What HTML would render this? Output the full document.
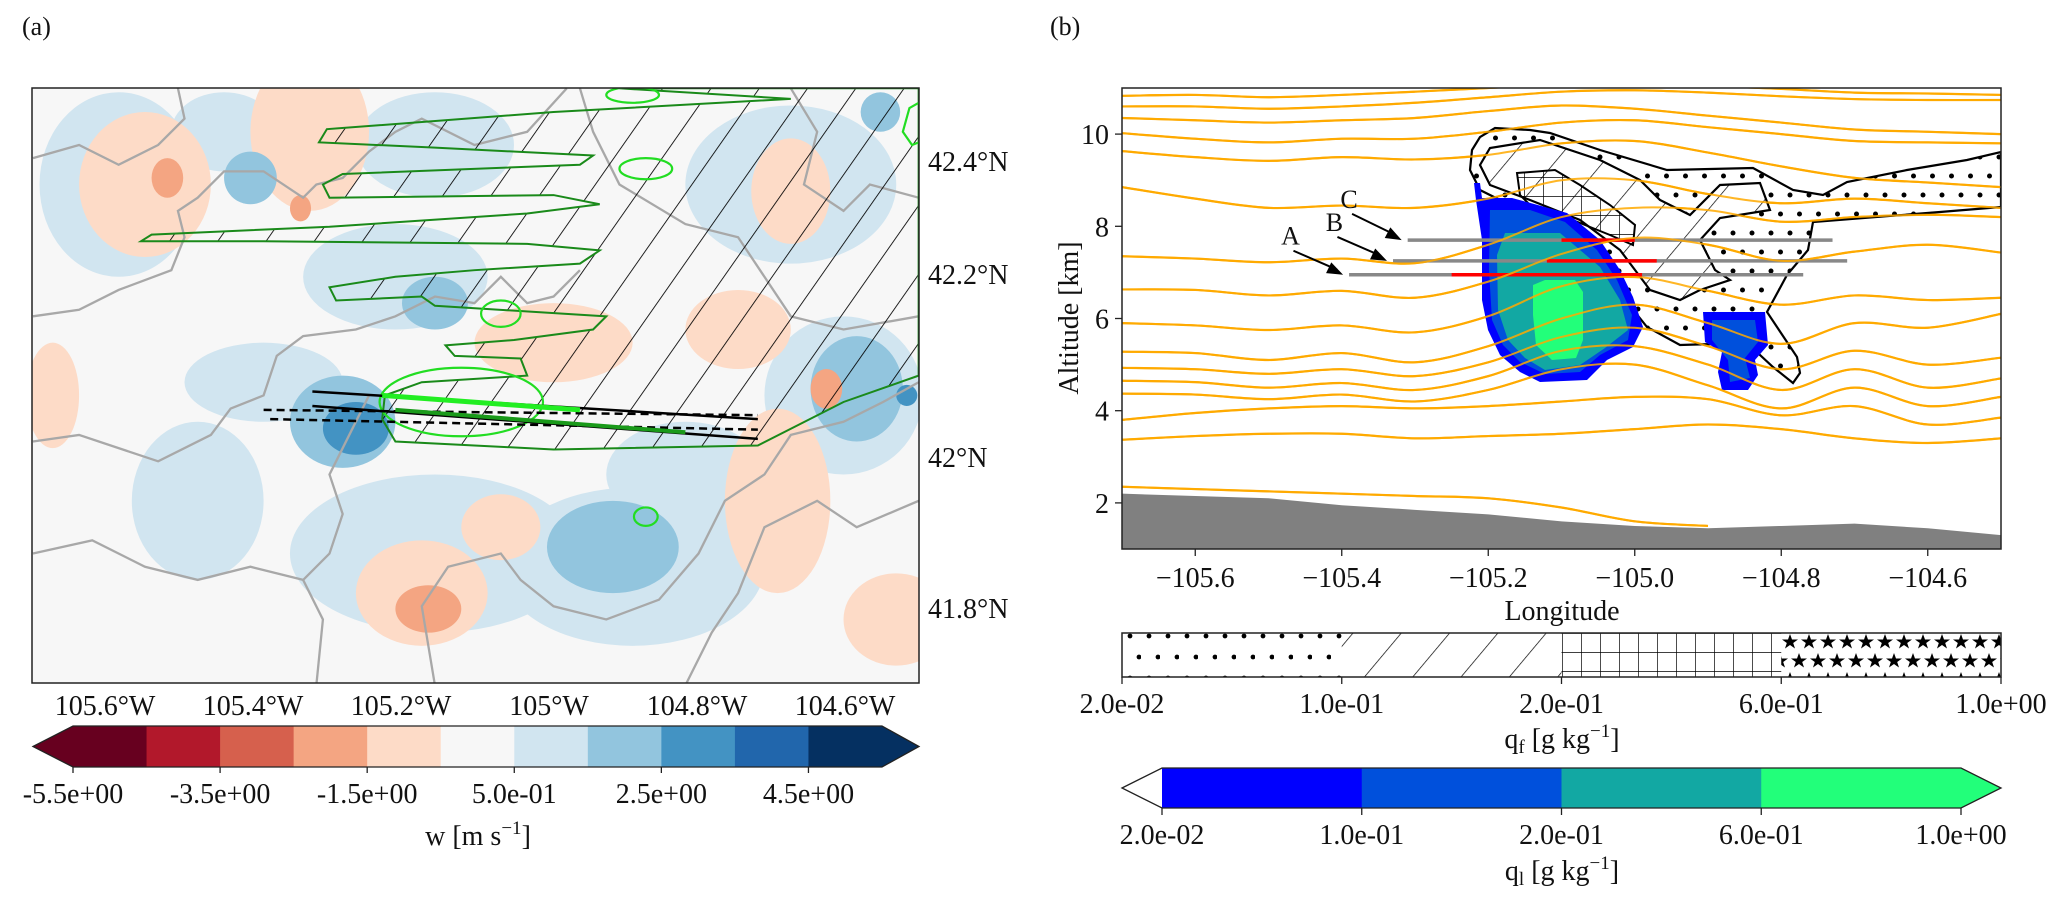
<!DOCTYPE html>
<html><head><meta charset="utf-8"><style>
html,body{margin:0;padding:0;background:#fff;}
svg text{font-family:"Liberation Serif",serif;fill:#111;}
</style></head><body>
<svg id="fig" width="2067" height="905" viewBox="0 0 2067 905" xmlns="http://www.w3.org/2000/svg">
<defs>
<pattern id="slashA" patternUnits="userSpaceOnUse" width="30" height="30" patternTransform="rotate(35)"><line x1="0" y1="0" x2="0" y2="30" stroke="#000" stroke-width="1.3"/></pattern>
<pattern id="dots" patternUnits="userSpaceOnUse" width="19" height="38"><circle cx="4" cy="5" r="2.5" fill="#000"/><circle cx="13.5" cy="24" r="2.5" fill="#000"/></pattern>
<pattern id="dotsBar" patternUnits="userSpaceOnUse" x="1122" y="633" width="19" height="42"><circle cx="8" cy="3" r="2.4" fill="#000"/><circle cx="17" cy="24" r="2.4" fill="#000"/></pattern>
<pattern id="slash" patternUnits="userSpaceOnUse" width="37" height="37" patternTransform="rotate(40)"><line x1="0" y1="0" x2="0" y2="37" stroke="#000" stroke-width="1.4"/></pattern>
<pattern id="cross" patternUnits="userSpaceOnUse" x="1562" y="633" width="19" height="19"><path d="M0 0V19M0 0H19" stroke="#000" stroke-width="1.4" fill="none"/></pattern>
<pattern id="stars" patternUnits="userSpaceOnUse" x="1781" y="633" width="19" height="38">
<polygon points="9,1 11,6.5 17,6.5 12.2,10 14,15.5 9,12 4,15.5 5.8,10 1,6.5 7,6.5" fill="#000"/>
<polygon points="18,20 20,25.5 26,25.5 21.2,29 23,34.5 18,31 13,34.5 14.8,29 10,25.5 16,25.5" fill="#000"/>
<polygon points="-1,20 1,25.5 7,25.5 2.2,29 4,34.5 -1,31 -6,34.5 -4.2,29 -9,25.5 -3,25.5" fill="#000"/>
</pattern>
<clipPath id="clipA"><rect x="32" y="88" width="887" height="595"/></clipPath>
<clipPath id="clipB"><rect x="1122" y="88" width="879" height="461"/></clipPath>
</defs>

<text x="22" y="35" font-size="26">(a)</text>
<text x="1050" y="35" font-size="26">(b)</text>

<!-- PANEL A -->
<g id="mapA" clip-path="url(#clipA)">
<rect x="32" y="88" width="887" height="595" fill="#f7f7f7"/>
<g id="blobs" transform="scale(1.318)"></g>
<g id="terrainC" transform="scale(1.318)" fill="none" stroke="#a8a8a8" stroke-width="2.3" vector-effect="non-scaling-stroke"></g>
<g transform="scale(1.318)">
<path d="M470,67 L697,67 L697,285 L640,305 L575,338 L420,341 L300,335 L290,318 L292,300 L320,290 L400,285 L395,272 L345,270 L338,262 L390,258 L450,250 L460,240 L330,232 L320,225 L255,228 L250,218 L300,210 L360,205 L440,200 L455,190 L400,185 L200,183 L107,183 L115,178 L250,172 L400,162 L455,155 L420,148 L250,150 L245,140 L260,132 L440,125 L450,118 L330,112 L242,108 L248,98 L420,85 L600,75 L470,67 Z" fill="url(#slashA)" stroke="#1a8a1a" stroke-width="2" vector-effect="non-scaling-stroke"/>
<g fill="none" stroke="#22dd22" stroke-width="2.2">
<ellipse cx="350" cy="305" rx="62" ry="26" vector-effect="non-scaling-stroke"/>
<ellipse cx="490" cy="392" rx="9" ry="7" vector-effect="non-scaling-stroke"/>
<ellipse cx="490" cy="128" rx="20" ry="8" vector-effect="non-scaling-stroke"/>
<ellipse cx="380" cy="238" rx="15" ry="10" vector-effect="non-scaling-stroke"/>
<ellipse cx="480" cy="72" rx="20" ry="6" vector-effect="non-scaling-stroke"/>
<path d="M697,78 L690,82 L685,100 L692,110 L697,108" vector-effect="non-scaling-stroke"/>
</g>
<g stroke="#000" fill="none">
<line x1="237" y1="297" x2="575" y2="318" stroke-width="2.5" vector-effect="non-scaling-stroke"/>
<line x1="237" y1="308" x2="575" y2="333" stroke-width="2.5" vector-effect="non-scaling-stroke"/>
<line x1="200" y1="311" x2="575" y2="315" stroke-width="2.5" stroke-dasharray="8,5" vector-effect="non-scaling-stroke"/>
<line x1="205" y1="318" x2="575" y2="326" stroke-width="2.5" stroke-dasharray="8,5" vector-effect="non-scaling-stroke"/>
<line x1="290" y1="300" x2="440" y2="311" stroke="#22ee22" stroke-width="5" vector-effect="non-scaling-stroke"/>
<line x1="300" y1="311" x2="520" y2="328" stroke="#1a9a1a" stroke-width="4" vector-effect="non-scaling-stroke"/>
</g>
</g>
</g>
<rect x="32" y="88" width="887" height="595" fill="none" stroke="#222" stroke-width="1.5"/>
<g id="latLabels" font-size="28"></g>
<g id="lonLabels" font-size="28"></g>
<g id="cbarA"></g>

<!-- PANEL B -->
<g clip-path="url(#clipB)">
<g id="orange" fill="none" stroke="#ffaa00" stroke-width="2.2"></g>
<path id="terrain" fill="#808080"/>
<path d="M1470,170 L1472,150 L1480,137 L1495,128 L1530,130 L1550,133 L1600,150 L1667,170 L1753,168 L1793,190 L1823,195 L1847,182 L1907,170 L1967,160 L2001,152 L2001,207 L1940,212 L1813,222 L1808,250 L1787,275 L1767,312 L1797,357 L1800,373 L1793,383 L1773,367 L1747,343 L1680,345 L1647,327 L1623,297 L1590,255 L1557,225 L1510,205 L1480,190 Z" fill="url(#dots)" stroke="#000" stroke-width="2.2"/>
<path d="M1480,165 L1490,148 L1540,140 L1600,160 L1640,180 L1660,200 L1690,215 L1720,185 L1760,183 L1770,210 L1720,218 L1700,240 L1715,270 L1730,280 L1700,290 L1680,300 L1650,290 L1620,250 L1580,220 L1530,200 L1490,185 Z" fill="#fff" stroke="#000" stroke-width="2.2"/>
<path d="M1480,165 L1490,148 L1540,140 L1600,160 L1640,180 L1660,200 L1690,215 L1720,185 L1760,183 L1770,210 L1720,218 L1700,240 L1715,270 L1730,280 L1700,290 L1680,300 L1650,290 L1620,250 L1580,220 L1530,200 L1490,185 Z" fill="url(#slash)"/>
<path d="M1517,173 L1555,170 L1580,185 L1610,205 L1635,225 L1633,245 L1610,235 L1560,215 L1530,205 L1520,195 Z" fill="url(#cross)" stroke="#000" stroke-width="2"/>
<g id="liquid">
<path fill="#0000ff" d="M1474,183 L1480,183 L1482,198 L1512,198 L1567,213 L1600,240 L1620,270 L1633,297 L1643,327 L1633,347 L1607,360 L1587,380 L1540,382 L1520,372 L1500,355 L1488,330 L1482,300 L1482,240 L1476,200 Z"/>
<path fill="#0050dc" d="M1490,210 L1530,210 L1565,222 L1597,250 L1617,280 L1632,315 L1628,340 L1600,355 L1580,372 L1545,374 L1520,362 L1503,345 L1492,320 L1489,270 Z"/>
<path fill="#12a8a3" d="M1505,233 L1560,233 L1600,267 L1620,300 L1628,330 L1605,348 L1580,365 L1545,370 L1525,358 L1508,340 L1498,310 L1497,255 Z"/>
<path fill="#22ff7a" d="M1533,285 L1545,280 L1575,280 L1583,292 L1583,340 L1576,358 L1552,360 L1536,345 L1533,315 Z"/>
<path fill="#0000ff" d="M1703,312 L1765,312 L1768,345 L1755,360 L1758,375 L1748,390 L1722,390 L1718,372 L1722,352 L1705,342 Z"/>
<path fill="#0050dc" d="M1712,320 L1755,320 L1758,342 L1745,358 L1750,378 L1730,382 L1728,360 L1712,340 Z"/>
</g>
<g id="tracks" stroke-width="3.5"></g>
<g id="orange2" fill="none" stroke="#ffaa00" stroke-width="2" opacity="0.85"></g>
</g>
<rect x="1122" y="88" width="879" height="461" fill="none" stroke="#222" stroke-width="1.5"/>
<g id="annot" font-size="26"></g>
<g id="axesB" font-size="28"></g>
<text x="1562" y="620" font-size="28" text-anchor="middle">Longitude</text>
<text transform="translate(1078,318) rotate(-90)" font-size="28" text-anchor="middle">Altitude [km]</text>
<g id="qfBar"></g>
<g id="qlBar"></g>
</svg>
<script>
const NS="http://www.w3.org/2000/svg";
function mk(tag,attrs,parent){const e=document.createElementNS(NS,tag);for(const k in attrs)e.setAttribute(k,attrs[k]);parent.appendChild(e);return e;}

// ---------- Panel A data ----------
const latTicks=["42.4°N","42.2°N","42°N","41.8°N"];
const latTickY=[161,274,457,608];
const lonTicks=["105.6°W","105.4°W","105.2°W","105°W","104.8°W","104.6°W"];
const lonTickX=[105,253,401,549,697,845];
const wLevels=[-5.5,-4.5,-3.5,-2.5,-1.5,-0.5,0.5,1.5,2.5,3.5,4.5,5.5];
const wColors=["#67001f","#b2182b","#d6604d","#f4a582","#fddbc7","#f7f7f7","#d1e5f0","#92c5de","#4393c3","#2166ac","#053061"];
const wTickLabels=["-5.5e+00","-3.5e+00","-1.5e+00","5.0e-01","2.5e+00","4.5e+00"];
const wTickValues=[-5.5,-3.5,-1.5,0.5,2.5,4.5];
// w blobs: [x, y, rx, ry, level index] (map coords)
const blobX=[90,170,330,300,330,480,640,600,150,200,520,110,235,600,420,320,590,380,680,190,465,650,330,260,668,127,325,627,228,270,688,560,40];
const blobY=[140,100,110,210,420,430,300,140,380,290,360,140,100,145,260,450,380,400,470,135,415,295,230,320,85,135,462,295,158,325,300,250,300];
const blobRX=[60,40,60,70,110,100,60,80,50,60,60,50,45,30,60,50,40,30,40,20,50,35,25,40,15,12,25,12,8,25,8,40,20];
const blobRY=[70,30,40,40,60,60,60,60,60,30,40,55,60,40,30,40,70,25,35,20,35,40,20,35,15,15,18,15,10,20,8,30,40];
const blobLvl=[6,6,6,6,6,6,6,6,6,6,6,4,4,4,4,4,4,4,4,7,7,7,7,7,7,3,3,3,3,8,8,4,4];

const gb=document.getElementById('blobs');
for(let i=0;i<blobX.length;i++){
  const e=mk('ellipse',{cx:blobX[i],cy:blobY[i],rx:blobRX[i],ry:blobRY[i],fill:wColors[blobLvl[i]]},gb);
  
  
}
const terrainLines=[
"25,120 60,110 90,125 120,110 140,90 135,67",
"25,240 60,235 90,220 130,205 140,180 135,160 150,150 170,130 200,130 230,150 240,140 260,135 280,115 300,100 320,90 360,110 400,100 430,67",
"25,335 60,330 90,340 120,350 160,330 175,310 200,300 210,270 230,255 270,250 300,240 330,225 360,230 380,210 400,230 420,225 440,205",
"240,520 245,470 230,440 250,420 260,390 250,360 265,330 280,300",
"330,520 320,460 340,430 380,420 395,440 420,460 460,470 500,455 530,420 550,380 580,360 600,330 640,320 670,305 697,290",
"520,520 540,480 560,450 580,400 620,380 650,400 697,380",
"600,67 620,100 610,140 640,160 660,140 697,150",
"440,67 450,100 470,140 520,170 560,180 580,210 600,240 640,250 697,240",
"25,420 70,410 110,430 150,440 190,430 230,440"];
const tc=document.getElementById('terrainC');
terrainLines.forEach(p=>{const e=mk('polyline',{points:p,'vector-effect':'non-scaling-stroke'},tc);
 
 });

const latG=document.getElementById('latLabels');
latTicks.forEach((t,i)=>{const e=mk('text',{x:928,y:latTickY[i]+10},latG);e.textContent=t;
 
 });
const lonG=document.getElementById('lonLabels');
lonTicks.forEach((t,i)=>{const e=mk('text',{x:lonTickX[i],y:715,'text-anchor':'middle'},lonG);e.textContent=t;
 
 });

// colorbar a
const cA=document.getElementById('cbarA');
const cbx0=73,cbx1=882,cby0=726,cby1=767;
const wx=v=>cbx0+(v-wLevels[0])/(wLevels[wLevels.length-1]-wLevels[0])*(cbx1-cbx0);
for(let i=0;i<wColors.length;i++){
  const r=mk('rect',{x:wx(wLevels[i]),y:cby0,width:wx(wLevels[i+1])-wx(wLevels[i])+0.5,height:cby1-cby0,fill:wColors[i]},cA);
  
  
}
let t1=mk('polygon',{points:`${cbx0},${cby0} 33,${(cby0+cby1)/2} ${cbx0},${cby1}`,fill:wColors[0]},cA);


let t2=mk('polygon',{points:`${cbx1},${cby0} 919,${(cby0+cby1)/2} ${cbx1},${cby1}`,fill:wColors[wColors.length-1]},cA);


mk('polygon',{points:`33,${(cby0+cby1)/2} ${cbx0},${cby0} ${cbx1},${cby0} 919,${(cby0+cby1)/2} ${cbx1},${cby1} ${cbx0},${cby1}`,fill:'none',stroke:'#222','stroke-width':1.3},cA);
wTickValues.forEach((v,i)=>{mk('line',{x1:wx(v),y1:cby1,x2:wx(v),y2:cby1+6,stroke:'#222','stroke-width':1.3},cA);
 const e=mk('text',{x:wx(v),y:803,'font-size':28,'text-anchor':'middle'},cA);e.textContent=wTickLabels[i];
 
 });
let wt=mk('text',{x:478,y:845,'font-size':28,'text-anchor':'middle'},cA);
wt.innerHTML='w [m s<tspan dy="-11" font-size="19">−1</tspan><tspan dy="11">]</tspan>';



// ---------- Panel B data ----------
const lonGrid=[-105.7,-105.6,-105.5,-105.4,-105.3,-105.2,-105.1,-105.0,-104.9,-104.8,-104.7,-104.6,-104.5];
const c1=[10.83,10.85,10.80,10.85,10.92,11.0,11.08,11.1,11.05,10.98,10.9,10.88,10.85];
const c2=[10.6,10.6,10.55,10.6,10.68,10.8,10.92,10.95,10.9,10.82,10.76,10.74,10.74];
const c3=[10.35,10.3,10.25,10.3,10.35,10.5,10.62,10.55,10.4,10.25,10.1,10.05,10.0];
const c4=[10.02,9.9,9.82,9.9,9.9,10.05,10.25,10.3,10.15,10.0,9.85,9.82,9.8];
const c5=[9.63,9.5,9.42,9.5,9.45,9.55,9.8,9.85,9.6,9.3,9.05,8.95,8.85];
const c6=[8.85,8.6,8.4,8.45,8.4,8.6,9.0,9.0,8.7,8.5,8.6,8.5,8.4];
const c7=[7.35,7.3,7.22,7.3,7.2,7.6,8.2,8.4,8.35,8.1,8.2,8.25,8.2];
const c8=[6.63,6.62,6.5,6.6,6.45,6.8,7.4,7.75,7.6,7.25,7.45,7.6,7.43];
const c9=[5.9,5.85,5.75,5.85,5.7,6.05,6.7,6.9,6.6,6.3,6.5,6.4,6.45];
const c10=[5.28,5.25,5.1,5.25,5.05,5.4,6.0,6.3,5.9,5.45,5.9,5.8,6.1];
const c11=[4.93,4.9,4.8,4.9,4.75,5.05,5.6,5.8,5.4,4.9,5.3,5.0,5.15];
const c12=[4.65,4.62,4.5,4.6,4.45,4.75,5.3,5.4,5.0,4.45,4.9,4.5,4.7];
const c13=[4.37,4.35,4.25,4.35,4.2,4.45,4.9,5.0,4.55,4.05,4.5,4.1,4.3];
const c14=[3.8,3.95,4.05,4.1,4.05,4.1,4.2,4.3,4.25,3.9,4.1,3.7,3.85];
const c15=[3.37,3.45,3.5,3.5,3.4,3.45,3.5,3.6,3.7,3.6,3.4,3.3,3.4];
const c16=[2.35,2.3,2.25,2.2,2.15,2.1,1.9,1.6,1.5];
const terrainAlt=[2.2,2.15,2.1,1.95,1.85,1.75,1.6,1.5,1.45,1.5,1.55,1.45,1.3];
const xTicks=[-105.6,-105.4,-105.2,-105.0,-104.8,-104.6];
const xTickLabels=["−105.6","−105.4","−105.2","−105.0","−104.8","−104.6"];
const yTicks=[2,4,6,8,10];
const trackNames=["A","B","C"];
const trackAlt=[6.95,7.25,7.7];
const trackLon0=[-105.39,-105.33,-105.31];
const trackLon1=[-104.77,-104.71,-104.73];
const redLon0=[-105.25,-105.12,-105.1];
const redLon1=[-104.99,-104.97,-105.0];
const labelLon=[-105.47,-105.41,-105.39];
const labelAlt=[7.6,7.9,8.4];

const X=lon=>1122+(lon+105.7)*(879/1.2);
const Y=km=>549-(km-1)*46.1;

function smooth(pts){let d=`M${pts[0][0]},${pts[0][1]}`;
 for(let i=0;i<pts.length-1;i++){const p0=pts[Math.max(0,i-1)],p1=pts[i],p2=pts[i+1],p3=pts[Math.min(pts.length-1,i+2)];
  d+=` C${p1[0]+(p2[0]-p0[0])/6},${p1[1]+(p2[1]-p0[1])/6} ${p2[0]-(p3[0]-p1[0])/6},${p2[1]-(p3[1]-p1[1])/6} ${p2[0]},${p2[1]}`;}
 return d;}
const contours=[c1,c2,c3,c4,c5,c6,c7,c8,c9,c10,c11,c12,c13,c14,c15,c16];
const og=document.getElementById('orange'),og2=document.getElementById('orange2');
contours.forEach(c=>{const pts=c.map((v,i)=>[X(lonGrid[i]),Y(v)]);
 const e=mk('path',{d:smooth(pts)},og);
 
 
 mk('path',{d:smooth(pts)},og2);});
let tp=terrainAlt.map((v,i)=>`${X(lonGrid[i])},${Y(v)}`);
document.getElementById('terrain').setAttribute('d',`M${X(-105.7)},${Y(0)} L${tp.join(' L')} L${X(-104.5)},${Y(0)} Z`);

const tg=document.getElementById('tracks');
trackNames.forEach((n,i)=>{
 const g=mk('line',{x1:X(trackLon0[i]),y1:Y(trackAlt[i]),x2:X(trackLon1[i]),y2:Y(trackAlt[i]),stroke:'#888'},tg);
 
 
 const r=mk('line',{x1:X(redLon0[i]),y1:Y(trackAlt[i]),x2:X(redLon1[i]),y2:Y(trackAlt[i]),stroke:'#ff0000'},tg);
 
 
});
const an=document.getElementById('annot');
trackNames.forEach((n,i)=>{
 const lx=X(labelLon[i]),ly=Y(labelAlt[i]);
 const t=mk('text',{x:lx,y:ly,'text-anchor':'middle'},an);t.textContent=n;
 
 
 const ex=X(trackLon0[i])-6,ey=Y(trackAlt[i]);
 const sx=lx+3,sy=ly+6;
 mk('line',{x1:sx,y1:sy,x2:ex-6,y2:ey-5,stroke:'#000','stroke-width':2},an);
 const ang=Math.atan2(ey-sy,ex-sx);
 const h=mk('polygon',{points:`${ex},${ey} ${ex-16*Math.cos(ang)+6*Math.sin(ang)},${ey-16*Math.sin(ang)-6*Math.cos(ang)} ${ex-16*Math.cos(ang)-6*Math.sin(ang)},${ey-16*Math.sin(ang)+6*Math.cos(ang)}`,fill:'#000'},an);
 
 
});
const ax=document.getElementById('axesB');
xTicks.forEach((v,i)=>{mk('line',{x1:X(v),y1:549,x2:X(v),y2:556,stroke:'#222','stroke-width':1.3},ax);
 const e=mk('text',{x:X(v),y:587,'text-anchor':'middle'},ax);e.textContent=xTickLabels[i];
 
 });
yTicks.forEach(v=>{mk('line',{x1:1115,y1:Y(v),x2:1122,y2:Y(v),stroke:'#222','stroke-width':1.3},ax);
 const e=mk('text',{x:1109,y:Y(v)+10,'text-anchor':'end'},ax);e.textContent=v;
 
 });

// qf hatch bar
const qLabels=["2.0e-02","1.0e-01","2.0e-01","6.0e-01","1.0e+00"];
const qfFills=["url(#dotsBar)","url(#slash)","url(#cross)","url(#stars)"];
const qlColors=["#0000ff","#0050dc","#12a8a3","#22ff7a"];
const qf=document.getElementById('qfBar');
const qfx=i=>1122+i*(879/4);
qfFills.forEach((f,i)=>{const r=mk('rect',{x:qfx(i),y:633,width:879/4,height:44,fill:f},qf);
 
 });
mk('rect',{x:1122,y:633,width:879,height:44,fill:'none',stroke:'#222','stroke-width':1.5},qf);
qLabels.forEach((l,i)=>{mk('line',{x1:qfx(i),y1:677,x2:qfx(i),y2:684,stroke:'#222','stroke-width':1.3},qf);
 const e=mk('text',{x:qfx(i),y:713,'font-size':28,'text-anchor':'middle'},qf);e.textContent=l;
 
 });
let qft=mk('text',{x:1562,y:748,'font-size':28,'text-anchor':'middle'},qf);
qft.innerHTML='q<tspan font-size="19" dy="5">f</tspan><tspan dy="-5"> [g kg</tspan><tspan dy="-11" font-size="19">−1</tspan><tspan dy="11">]</tspan>';



const ql=document.getElementById('qlBar');
const qlx=i=>1162+i*(799/4);
qlColors.forEach((c,i)=>{const r=mk('rect',{x:qlx(i),y:768,width:799/4+0.5,height:40,fill:c},ql);
 
 });
let qtr=mk('polygon',{points:'1961,768 2001,788 1961,808',fill:qlColors[3]},ql);


mk('polygon',{points:'1122,788 1162,768 1961,768 2001,788 1961,808 1162,808',fill:'none',stroke:'#222','stroke-width':1.3},ql);
qLabels.forEach((l,i)=>{mk('line',{x1:qlx(i),y1:808,x2:qlx(i),y2:815,stroke:'#222','stroke-width':1.3},ql);
 const e=mk('text',{x:qlx(i),y:844,'font-size':28,'text-anchor':'middle'},ql);e.textContent=l;
 
 });
let qlt=mk('text',{x:1562,y:880,'font-size':28,'text-anchor':'middle'},ql);
qlt.innerHTML='q<tspan font-size="19" dy="5">l</tspan><tspan dy="-5"> [g kg</tspan><tspan dy="-11" font-size="19">−1</tspan><tspan dy="11">]</tspan>';


</script>
</body></html>
